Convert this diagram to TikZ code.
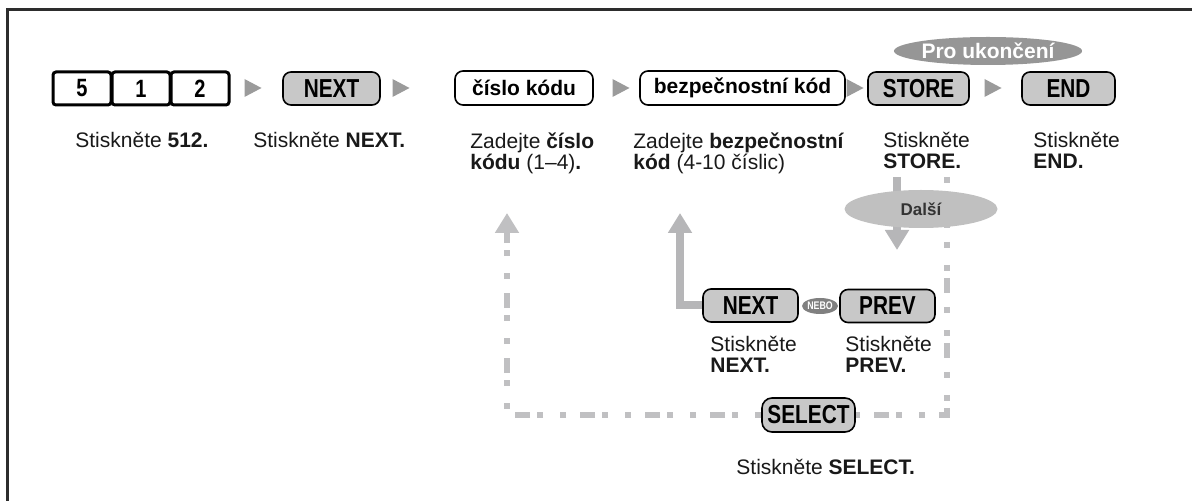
\documentclass[tikz,border=0pt]{standalone}
\usepackage{fontspec}
\setmainfont{Liberation Sans}
\newfontfamily\keyfont[FakeStretch=0.8]{Liberation Sans}
\usetikzlibrary{arrows.meta,positioning,shapes.geometric,calc}
\definecolor{keygray}{RGB}{200,200,200}
\definecolor{sepgray}{RGB}{155,155,155}
\definecolor{loopgray}{RGB}{182,182,184}
\definecolor{dashgray}{RGB}{192,192,194}
\definecolor{ovaldark}{RGB}{150,150,150}
\definecolor{ovallight}{RGB}{192,192,192}
\definecolor{framegray}{RGB}{45,45,45}
\tikzset{
  numkey/.style={rectangle, rounded corners=1.5pt, draw=black, line width=1.5pt, fill=white,
                 minimum height=16.5pt, minimum width=29pt, inner sep=0pt,
                 font=\keyfont\bfseries\fontsize{12.5}{13}\selectfont},
  fkey/.style={rectangle, rounded corners=4pt, draw=black, line width=0.8pt, fill=keygray,
               minimum height=16.5pt, inner sep=0pt,
               font=\keyfont\bfseries\fontsize{13}{13}\selectfont},
  txtkey/.style={rectangle, rounded corners=4pt, draw=black, line width=0.8pt, fill=white,
                 minimum height=17pt, inner sep=0pt, font=\bfseries\fontsize{10.5}{12}\selectfont},
  lbl/.style={anchor=north west, inner sep=0pt, align=left, text=black!90,
              font=\fontsize{10.5}{10.5}\selectfont},
  loopar/.style={-{Triangle[length=10pt,width=11.5pt]}, draw=loopgray, line width=4pt},
  dashln/.style={draw=dashgray, line width=3pt,
                 dash pattern=on 3pt off 8.5pt on 3pt off 3.5pt on 7.5pt off 7pt},
}
\begin{document}
\begin{tikzpicture}[x=0.5pt,y=-0.5pt,
  quitoval/.style={ellipse, fill=ovaldark, minimum width=91.5pt, minimum height=14pt, inner sep=0pt,
                   text=white, font=\bfseries\fontsize{10.5}{12}\selectfont},
  nextoval/.style={ellipse, fill=ovallight, minimum width=76.5pt, minimum height=19pt, inner sep=0pt,
                   text=black!80, font=\bfseries\fontsize{8.5}{9}\selectfont},
  orbadge/.style={ellipse, fill=black!50, minimum width=17pt, minimum height=8pt, inner sep=0pt,
                  text=white, font=\keyfont\bfseries\fontsize{5.5}{6}\selectfont},
  frameln/.style={draw=framegray, line width=1.5pt},
]
\useasboundingbox (0,0) rectangle (1192,501);
\draw[frameln] (7,501) -- (7,10) -- (1192,10);

% ===================== TOP ROW: the programming sequence =====================
\node[numkey] (k5) at (82,88.5) {5};
\node[numkey] (k1) at (141,88.5) {1};
\node[numkey] (k2) at (200,88.5) {2};
\node[fkey, minimum width=48.5pt] (next1) at (331.5,88.5) {NEXT};
\node[txtkey, minimum width=69pt] (code) at (524,88) {číslo kódu};
\node[txtkey, minimum width=102.5pt] (seccode) at (742.5,88) {bezpečnostní kód};
\node[fkey, minimum width=50.5pt] (store) at (918.5,88.5) {STORE};
\node[fkey, minimum width=46.5pt] (endk) at (1068.5,88.5) {END};
\node[quitoval] (quit) at (988,51) {Pro ukončení};

\foreach \x in {253,401,621,855,993}
  \fill[sepgray] (\x-8.5,79) -- (\x+8.5,88) -- (\x-8.5,97) -- cycle;

\node[lbl] (l512) at (75,132) {Stiskněte \textbf{512.}};
\node[lbl] (lnext) at (253,132) {Stiskněte \textbf{NEXT.}};
\node[lbl] (lcode) at (470,132) {Zadejte \textbf{číslo}\\\textbf{kódu} (1–4)\textbf{.}};
\node[lbl] (lsec) at (633,132) {Zadejte \textbf{bezpečnostní}\\\textbf{kód} (4-10 číslic)};
\node[lbl] (lstore) at (883,132) {Stiskněte\\\textbf{STORE.}};
\node[lbl] (lend) at (1033,132) {Stiskněte\\\textbf{END.}};

% ===================== LOWER PART: the loop back =====================
\node[fkey, minimum width=47.5pt] (next2) at (750.5,305.5) {NEXT};
\node[orbadge] (nebo) at (820,306) {NEBO};
\node[fkey, minimum width=47.5pt] (prev) at (887.5,306) {PREV};
\node[fkey, minimum width=46.5pt, minimum height=17pt, rounded corners=5pt] (select) at (808.5,415) {SELECT};

\node[lbl] (lnext2) at (710,336) {Stiskněte\\\textbf{NEXT.}};
\node[lbl] (lprev) at (845,336) {Stiskněte\\\textbf{PREV.}};
\node[lbl] (lselect) at (736,459) {Stiskněte \textbf{SELECT.}};

\coordinate (sectip) at (680,213);
\coordinate (codetip) at (507,213);
\coordinate (storeout) at (947,177);
\coordinate (storedown) at (897,177);
\coordinate (nexttip) at (897,250);

\draw[loopar] (next2.west) -| (sectip);
\draw[dashln] (storeout) |- (select.east);
\draw[dashln, -{Triangle[length=10pt,width=11.5pt]}] (select.west) -| (codetip);
\draw[loopar] (storedown) -- (nexttip);
\node[nextoval] (more) at (921,209) {Další};

\end{tikzpicture}
\end{document}
